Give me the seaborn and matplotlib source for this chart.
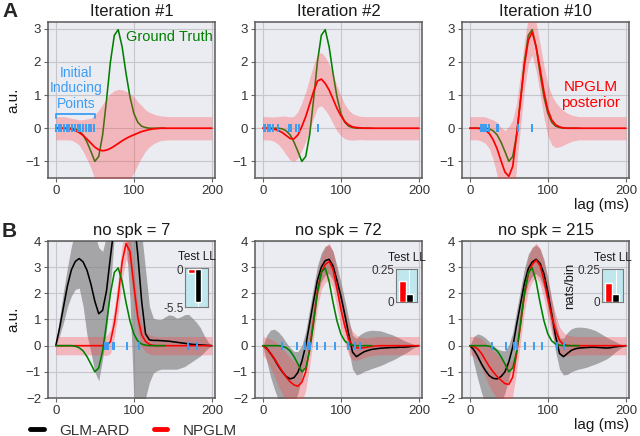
import numpy as np
import pandas as pd
import matplotlib
matplotlib.use("Agg")
import matplotlib.pyplot as plt
import seaborn as sns
from matplotlib.lines import Line2D

# ---------------- data ----------------
lag = [0, 5, 10, 15, 20, 25, 30, 35, 40, 45, 50, 55, 60, 65, 70, 75, 80, 85, 90, 95,
       100, 105, 110, 115, 120, 125, 130, 135, 140, 145, 150, 155, 160, 165, 170, 175,
       180, 185, 190, 195, 200]
lag_gt = [0, 5, 10, 15, 20, 25, 30, 35, 40, 45, 50, 55, 60, 65, 70, 75, 80, 85, 90, 95,
          100, 105, 110, 115, 120, 125, 130, 135, 140]
ground_truth = [0, 0, 0, 0, 0, -0.02, -0.08, -0.2, -0.42, -0.7, -1.0, -0.85, -0.2, 0.85,
                2.0, 2.8, 2.97, 2.45, 1.65, 0.95, 0.45, 0.18, 0.06, 0.02, 0, 0, 0, 0, 0]

# Row A: NPGLM posterior mean / sd per iteration
iter1_mean = [0, 0, 0, -0.01, -0.03, -0.07, -0.13, -0.22, -0.33, -0.45, -0.57, -0.65, -0.68,
              -0.66, -0.61, -0.54, -0.46, -0.38, -0.31, -0.25, -0.2, -0.15, -0.1, -0.07,
              -0.04, -0.02, -0.01, 0, 0, 0, 0, 0, 0, 0, 0, 0, 0, 0, 0, 0, 0]
iter1_sd = [0.35, 0.35, 0.35, 0.34, 0.33, 0.35, 0.38, 0.48, 0.61, 0.75, 0.97, 1.2, 1.4, 1.56,
            1.65, 1.67, 1.63, 1.54, 1.42, 1.28, 1.15, 0.95, 0.78, 0.62, 0.52, 0.45, 0.4,
            0.37, 0.36, 0.35, 0.35, 0.35, 0.35, 0.35, 0.35, 0.35, 0.35, 0.35, 0.35, 0.35, 0.35]
iter2_mean = [0, 0, -0.01, -0.03, -0.07, -0.13, -0.22, -0.31, -0.32, -0.2, 0.05, 0.35, 0.72,
              1.1, 1.42, 1.48, 1.35, 1.15, 0.88, 0.6, 0.38, 0.2, 0.1, 0.04, 0.02, 0.01,
              0, 0, 0, 0, 0, 0, 0, 0, 0, 0, 0, 0, 0, 0, 0]
iter2_sd = [0.35, 0.35, 0.35, 0.37, 0.42, 0.5, 0.58, 0.65, 0.68, 0.7, 0.72, 0.75, 0.78, 0.8,
            0.8, 0.8, 0.8, 0.78, 0.74, 0.68, 0.6, 0.52, 0.45, 0.4, 0.37, 0.35, 0.35, 0.35,
            0.35, 0.35, 0.35, 0.35, 0.35, 0.35, 0.35, 0.35, 0.35, 0.35, 0.35, 0.35, 0.35]
iter10_mean = [0, 0, 0, -0.02, -0.06, -0.16, -0.35, -0.62, -0.98, -1.32, -1.45, -1.15, -0.2,
               0.85, 1.9, 2.65, 2.9, 2.45, 1.8, 1.1, 0.55, 0.25, 0.1, 0.04, 0.01,
               0, 0, 0, 0, 0, 0, 0, 0, 0, 0, 0, 0, 0, 0, 0, 0]
iter10_sd = [0.35, 0.35, 0.35, 0.37, 0.4, 0.45, 0.6, 0.8, 1.0, 1.25, 1.5, 1.4, 0.95, 0.8,
             0.72, 0.7, 0.7, 0.72, 0.75, 0.78, 0.78, 0.75, 0.68, 0.6, 0.52, 0.45, 0.4, 0.37,
             0.35, 0.35, 0.35, 0.35, 0.35, 0.35, 0.35, 0.35, 0.35, 0.35, 0.35, 0.35, 0.35]
ind_iter1 = [0, 3.5, 7, 10.5, 14, 17.5, 21, 24.5, 28, 31.5, 35, 38.5, 42, 45.5, 49]
ind_iter2 = [1, 3.4, 6.3, 9.7, 12.6, 19, 34, 36, 43, 47, 71]
ind_iter10 = [14.8, 16.9, 19, 21, 24.5, 35, 36.3, 62, 80]

# Row B: spike-count experiments
spk7_npg = [0, 0, 0, 0, 0, 0, 0, 0, 0, 0, 0, 0, 0, 0.0, 0.15, 0.85, 1.9, 3.2, 3.9, 3.6, 2.3,
            1.1, 0.42, 0.16, 0.05, 0.01, 0, 0, 0, 0, 0, 0, 0, 0, 0, 0, 0, 0, 0, 0, 0]
spk7_npg_sd = [0.35, 0.35, 0.35, 0.35, 0.35, 0.35, 0.35, 0.35, 0.35, 0.35, 0.35, 0.35, 0.35,
               0.38, 0.45, 0.55, 0.65, 0.65, 0.6, 0.6, 0.6, 0.55, 0.45, 0.4, 0.37, 0.36,
               0.35, 0.35, 0.35, 0.35, 0.35, 0.35, 0.35, 0.35, 0.35, 0.35, 0.35, 0.35, 0.35, 0.35, 0.35]
spk7_glm = [0, 0.7, 1.5, 2.3, 2.9, 3.22, 3.33, 3.2, 2.88, 2.35, 1.7, 1.22, 1.35, 2.1, 3.4, 4.6,
            5.4, 5.8, 5.9, 5.7, 4.9, 3.5, 1.7, 0.45, 0.22, 0.2, 0.2, 0.19, 0.18, 0.17, 0.15,
            0.13, 0.11, 0.09, 0.07, 0.05, 0.04, 0.03, 0.02, 0.01, 0]
spk7_glm_lo = [0, 0.4, 0.9, 1.5, 1.9, 2.15, 2.2, 1.5, 0.4, -0.25, -1.0, -1.35, -0.5, 0.6, 2.2,
               4.2, 4.6, 4.7, 4.0, 1.8, -2.0, -2.5, -2.5, -2.0, -1.4, -1.05, -0.95, -0.9,
               -0.9, -0.9, -0.9, -0.9, -0.85, -0.8, -0.7, -0.6, -0.5, -0.4, -0.25, -0.1, 0]
spk7_glm_hi = [0, 1.1, 2.1, 3.0, 3.8, 4.4, 4.6, 4.7, 4.7, 4.6, 4.3, 3.75, 3.6, 4.2, 5.0, 6.0,
               6.5, 6.8, 6.9, 6.8, 6.5, 5.5, 4.3, 2.9, 1.5, 1.05, 1.0, 1.0, 1.1, 1.18, 1.15,
               1.05, 1.1, 1.18, 1.2, 1.05, 0.9, 0.7, 0.4, 0.15, 0]
spk72_npg = [0, -0.12, -0.3, -0.5, -0.75, -0.98, -1.2, -1.38, -1.5, -1.55, -1.4, -1.0, -0.1,
             0.95, 2.1, 2.8, 3.1, 3.22, 2.9, 2.2, 1.4, 0.75, 0.25, 0.0, -0.08, -0.09, -0.08,
             -0.05, -0.03, -0.01, 0, 0, 0, 0, 0, 0, 0, 0, 0, 0, 0]
spk72_npg_sd = [0.35, 0.42, 0.55, 0.68, 0.8, 0.88, 0.92, 0.92, 0.9, 0.85, 0.78, 0.7, 0.68,
                0.65, 0.65, 0.65, 0.68, 0.7, 0.72, 0.72, 0.7, 0.65, 0.6, 0.55, 0.48, 0.42,
                0.38, 0.36, 0.35, 0.35, 0.35, 0.35, 0.35, 0.35, 0.35, 0.35, 0.35, 0.35, 0.35, 0.35, 0.35]
spk72_glm = [0, -0.1, -0.3, -0.52, -0.78, -1.0, -1.18, -1.27, -1.22, -1.02, -0.6, 0.0, 0.85,
             1.7, 2.5, 3.0, 3.25, 3.3, 3.05, 2.5, 1.9, 1.2, 0.45, -0.25, -0.42, -0.32, -0.23,
             -0.18, -0.14, -0.12, -0.1, -0.09, -0.08, -0.07, -0.07, -0.06, -0.06, -0.05,
             -0.03, -0.01, 0]
spk72_glm_sd = [0, 0.5, 0.9, 1.15, 1.3, 1.35, 1.3, 1.2, 1.0, 0.8, 0.6, 0.55, 0.55, 0.55, 0.55,
                0.55, 0.55, 0.55, 0.55, 0.55, 0.55, 0.55, 0.6, 0.65, 0.7, 0.75, 0.75, 0.75,
                0.73, 0.7, 0.67, 0.62, 0.55, 0.5, 0.43, 0.35, 0.27, 0.2, 0.12, 0.05, 0]
spk215_npg = [0, -0.03, -0.12, -0.3, -0.55, -0.8, -1.0, -1.18, -1.32, -1.45, -1.48, -1.2,
              -0.3, 0.8, 1.95, 2.75, 3.1, 3.27, 3.05, 2.5, 1.8, 1.1, 0.6, 0.2, 0.05, 0.01,
              0, 0, 0, 0, 0, 0, 0, 0, 0, 0, 0, 0, 0, 0, 0]
spk215_npg_sd = [0.35, 0.38, 0.45, 0.55, 0.65, 0.75, 0.82, 0.85, 0.85, 0.82, 0.78, 0.72,
                 0.68, 0.65, 0.65, 0.65, 0.65, 0.65, 0.68, 0.7, 0.7, 0.65, 0.6, 0.52, 0.45,
                 0.4, 0.37, 0.36, 0.35, 0.35, 0.35, 0.35, 0.35, 0.35, 0.35, 0.35, 0.35, 0.35, 0.35, 0.35, 0.35]
spk215_glm = [0, -0.15, -0.4, -0.7, -0.95, -1.15, -1.25, -1.27, -1.18, -1.0, -0.62, -0.05,
              0.8, 1.6, 2.4, 2.95, 3.2, 3.3, 3.15, 2.75, 2.05, 1.2, 0.35, -0.3, -0.42, -0.3,
              -0.18, -0.12, -0.09, -0.08, -0.07, -0.06, -0.06, -0.07, -0.08, -0.09, -0.08,
              -0.05, -0.03, -0.01, 0]
spk215_glm_sd = [0, 0.5, 0.85, 1.1, 1.25, 1.3, 1.25, 1.15, 1.0, 0.8, 0.65, 0.55, 0.55, 0.55,
                 0.55, 0.55, 0.55, 0.55, 0.55, 0.55, 0.55, 0.55, 0.58, 0.6, 0.7, 0.8, 0.82,
                 0.82, 0.8, 0.78, 0.75, 0.7, 0.65, 0.58, 0.5, 0.42, 0.33, 0.23, 0.13, 0.05, 0]
ind_spk7 = [63.4, 65, 67, 72.7, 74, 91, 106, 170, 181.5]
ind_spk72 = [24, 43.3, 54.6, 58, 60, 69, 80, 92.4, 109, 118, 124]
ind_spk215 = [28.7, 46.4, 56, 61, 71, 82, 93, 112, 120.5]

test_ll_models = ["NPGLM", "GLM-ARD"]
test_ll_spk7 = [-0.6, -4.75]
test_ll_spk72 = [0.16, 0.063]
test_ll_spk215 = [0.146, 0.06]

iter_titles = ["Iteration #1", "Iteration #2", "Iteration #10"]
spk_titles = ["no spk = 7", "no spk = 72", "no spk = 215"]

# ---------------- style ----------------
sns.set_theme(style="darkgrid")
plt.rcParams["font.family"] = ["Liberation Sans", "DejaVu Sans"]
plt.rcParams.update({
    "axes.facecolor": "#ebebf2",
    "axes.edgecolor": "#5a5a5a",
    "axes.linewidth": 1.1,
    "grid.color": "#c6c6cc",
    "grid.linewidth": 0.8,
    "xtick.bottom": True,
    "ytick.left": True,
    "xtick.major.size": 3,
    "ytick.major.size": 3,
    "xtick.major.width": 0.8,
    "ytick.major.width": 0.8,
    "xtick.color": "#666666",
    "ytick.color": "#666666",
    "xtick.labelcolor": "#333333",
    "ytick.labelcolor": "#333333",
    "xtick.labelsize": 9.5,
    "ytick.labelsize": 9.5,
})

RED = "#ff0000"
PINK = (1.0, 0.25, 0.25)
GREEN = "#008000"
BLUE = "#3d9df3"
GRAY = "#808080"
LW = 1.15

fig = plt.figure(figsize=(6.4, 4.36), dpi=100)
W, H = 640, 436
col_left = [48, 255, 462]
col_w = 167
rowA = (22, 178)
rowB = (241, 398)


def make_ax(left, top, bottom):
    return fig.add_axes([left / W, 1 - bottom / H, col_w / W, (bottom - top) / H])


def style_ax(ax, yticks, ylim, title):
    ax.set_xlim(-10, 204)
    ax.set_ylim(*ylim)
    ax.set_xticks([0, 100, 200])
    ax.set_yticks(yticks)
    ax.set_title(title, fontsize=12, pad=4, color="#1a1a1a")
    ax.set_xlabel("")
    ax.set_ylabel("")
    for s in ax.spines.values():
        s.set_visible(True)
        s.set_color("#5a5a5a")
    ax.tick_params(pad=2)


iter_means = [iter1_mean, iter2_mean, iter10_mean]
iter_sds = [iter1_sd, iter2_sd, iter10_sd]
iter_inds = [ind_iter1, ind_iter2, ind_iter10]
lag_a = np.array(lag, dtype=float)

axesA = []
for i in range(3):
    ax = make_ax(col_left[i], *rowA)
    m = np.array(iter_means[i])
    s = np.array(iter_sds[i])
    sns.lineplot(x=lag_gt, y=ground_truth, color=GREEN, lw=LW, ax=ax, zorder=2)
    ax.fill_between(lag_a, m - s, m + s, color=PINK, alpha=0.3, lw=0, zorder=3)
    sns.lineplot(x=lag, y=iter_means[i], color=RED, lw=LW + 0.1, ax=ax, zorder=4)
    ax.plot(iter_inds[i], np.zeros(len(iter_inds[i])), ls="none", marker="|", ms=5.5,
            mew=1.4, color=BLUE, zorder=5)
    style_ax(ax, [-1, 0, 1, 2, 3], (-1.5, 3.2), iter_titles[i])
    axesA.append(ax)

axesA[0].set_ylabel("a.u.", fontsize=11, color="#1a1a1a", labelpad=4)
axesA[2].set_xlabel("lag (ms)", fontsize=11, loc="right", labelpad=1, color="#1a1a1a")

# annotations row A
axA = axesA[0]
axA.text(90, 2.75, "Ground Truth", color=GREEN, fontsize=10.5, ha="left", va="center")
axA.text(26, 1.2, "Initial\nInducing\nPoints", color=BLUE, fontsize=10, ha="center",
         va="center", linespacing=1.15)
br_lo, br_hi = 0.3, 0.42
bx0, bx1 = min(ind_iter1), max(ind_iter1) + 1.5
axA.plot([bx0, bx0, bx1, bx1], [br_lo, br_hi, br_hi, br_lo], color=BLUE, lw=1.3, zorder=6)
axesA[2].text(155, 1.0, "NPGLM\nposterior", color=RED, fontsize=11, ha="center",
              va="center", linespacing=1.1)

# Row B
spk_npg = [spk7_npg, spk72_npg, spk215_npg]
spk_npg_sd = [spk7_npg_sd, spk72_npg_sd, spk215_npg_sd]
spk_glm = [spk7_glm, spk72_glm, spk215_glm]
spk_inds = [ind_spk7, ind_spk72, ind_spk215]
spk_glm_band = [
    (np.array(spk7_glm_lo), np.array(spk7_glm_hi)),
    (np.array(spk72_glm) - np.array(spk72_glm_sd), np.array(spk72_glm) + np.array(spk72_glm_sd)),
    (np.array(spk215_glm) - np.array(spk215_glm_sd), np.array(spk215_glm) + np.array(spk215_glm_sd)),
]
test_lls = [test_ll_spk7, test_ll_spk72, test_ll_spk215]

axesB = []
for i in range(3):
    ax = make_ax(col_left[i], *rowB)
    lo, hi = spk_glm_band[i]
    ax.fill_between(lag_a, lo, hi, color=GRAY, alpha=0.65, lw=0, zorder=2)
    m = np.array(spk_npg[i])
    s = np.array(spk_npg_sd[i])
    ax.fill_between(lag_a, m - s, m + s, color=PINK, alpha=0.3, lw=0, zorder=3)
    sns.lineplot(x=lag, y=spk_glm[i], color="black", lw=LW, ax=ax, zorder=4)
    sns.lineplot(x=lag, y=spk_npg[i], color=RED, lw=LW, ax=ax, zorder=5)
    sns.lineplot(x=lag_gt, y=ground_truth, color=GREEN, lw=LW, ax=ax, zorder=6)
    ax.plot(spk_inds[i], np.zeros(len(spk_inds[i])), ls="none", marker="|", ms=5.5,
            mew=1.4, color=BLUE, zorder=7)
    style_ax(ax, [-2, -1, 0, 1, 2, 3, 4], (-2, 4), spk_titles[i])
    axesB.append(ax)

axesB[0].set_ylabel("a.u.", fontsize=11, color="#1a1a1a", labelpad=4)
axesB[2].set_xlabel("lag (ms)", fontsize=11, loc="right", labelpad=1, color="#1a1a1a")

# insets (Test LL)
inset_boxes = [(185, 268, 23, 39), (396, 269, 21, 33), (602, 269, 21, 33)]
inset_ylims = [(-5.5, 0.15), (0, 0.25), (0, 0.25)]
inset_yticks = [[-5.5, 0], [0, 0.25], [0, 0.25]]
inset_yticklabels = [["-5.5", "0"], ["0", "0.25"], ["0", "0.25"]]
inset_xlims = [(-0.88, 2.45), (-0.87, 2.05), (-0.9, 2.0)]
for i in range(3):
    x0, y0, w, h = inset_boxes[i]
    ins = fig.add_axes([x0 / W, 1 - (y0 + h) / H, w / W, h / H])
    ins.set_facecolor("#c0e6ee")
    df = pd.DataFrame({"model": test_ll_models, "ll": test_lls[i]})
    sns.barplot(data=df, x="model", y="ll", hue="model", palette=[RED, "black"],
                width=1.0, saturation=1, legend=False, ax=ins, zorder=3)
    ins.set_xlim(*inset_xlims[i])
    ins.set_ylim(*inset_ylims[i])
    ins.set_yticks(inset_yticks[i])
    ins.set_yticklabels(inset_yticklabels[i])
    ins.set_xticks([1])
    ins.set_xticklabels([])
    ins.grid(True, axis="x", color="white", lw=0.8, zorder=0)
    ins.grid(False, axis="y")
    ins.tick_params(axis="both", length=0, pad=1, labelsize=8.5)
    ins.set_xlabel("")
    ins.set_ylabel("")
    ins.set_title("Test LL", fontsize=8.5, pad=5.5, color="#1a1a1a")
    for s in ins.spines.values():
        s.set_visible(True)
        s.set_color("#7a7a7a")
        s.set_linewidth(0.8)
    if i == 2:
        ins.set_ylabel("nats/bin", fontsize=9.5, labelpad=1, color="#1a1a1a")

# panel letters
fig.text(2 / W, 1 - 2 / H, "A", fontsize=15, fontweight="bold", va="top", ha="left")
fig.text(2 / W, 1 - 222 / H, "B", fontsize=15, fontweight="bold", va="top", ha="left")

# legend
handles = [Line2D([], [], color="black", lw=3.5), Line2D([], [], color=RED, lw=3.5)]
fig.legend(handles, ["GLM-ARD", "NPGLM"], loc="center left", bbox_to_anchor=(30 / W, 5.5 / H),
           ncol=2, frameon=False, fontsize=11, handlelength=0.9, handletextpad=1.0,
           columnspacing=1.6, borderpad=0, borderaxespad=0, labelcolor="#333333")

fig.savefig("out.png", dpi=100)
